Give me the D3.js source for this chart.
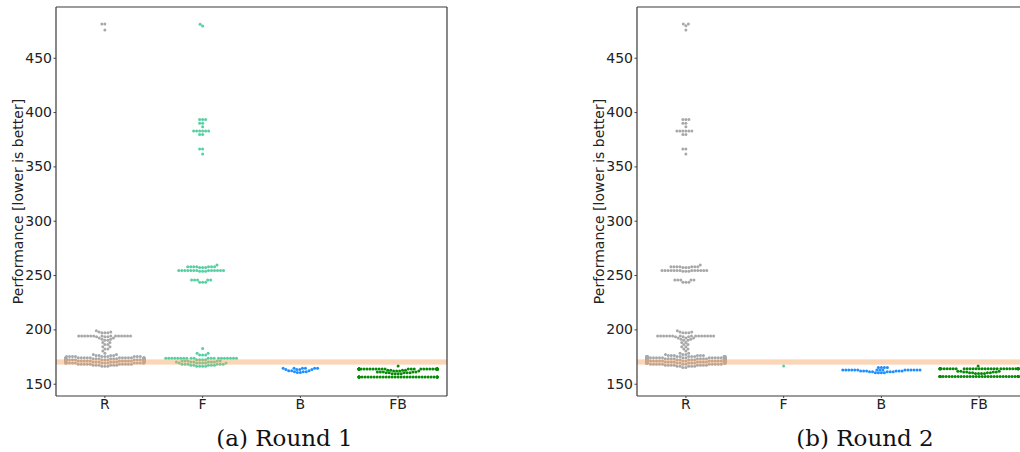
<!DOCTYPE html>
<html>
<head>
<meta charset="utf-8">
<script src="https://cdn.jsdelivr.net/npm/d3@7"></script>
<style>
  html, body { margin: 0; padding: 0; background: #fff; }
  svg { display: block; }
  .tick text { font-family: "DejaVu Sans", sans-serif; font-size: 14px; fill: #222; }
  .ylabel { font-family: "DejaVu Sans", sans-serif; font-size: 14px; fill: #222; }
  .caption { font-family: "DejaVu Serif", serif; font-size: 23px; fill: #111; }
</style>
</head>
<body>
<svg id="chart" width="1020" height="452"></svg>
<script>
// ---------------- DATA ----------------
const categories = ["R", "F", "B", "FB"];
const yTickValues = [150, 200, 250, 300, 350, 400, 450];
const captions = ["(a) Round 1", "(b) Round 2"];
const yLabel = "Performance [lower is better]";
const referenceBand = [167.6, 172.4];

// each entry: [value, number of runs with that value]
const round1_R = [
  [166, 3], [167, 6], [168, 10], [169, 14], [170, 16], [171, 18], [172, 18],
  [173, 17], [174, 15], [175, 10], [176, 4], [177, 2], [178, 1],
  [180, 1], [182, 2], [184, 2], [186, 2], [188, 2], [190, 2], [191, 2],
  [192, 2], [193.2, 3], [194, 14], [196.8, 3], [197.5, 2], [198.8, 1],
  [475.5, 1], [481, 2]
];
const round1_F = [
  [166, 4], [167, 5], [168, 6], [169, 6], [170, 6], [171, 5], [172, 4],
  [173.5, 20], [176.5, 3], [178, 2], [182.5, 1],
  [243.5, 3], [245.5, 5], [253.6, 3], [254.3, 13], [257, 3], [257.6, 7], [259.2, 1],
  [361.3, 1], [366, 2], [379.4, 2], [382.5, 6], [386.5, 1], [389.6, 2], [393.2, 3],
  [479.3, 1], [480.8, 1]
];
const round1_B = [
  [160.3, 2], [161, 3], [162, 3], [163, 4], [164.2, 6]
];
const round1_FB = [
  [156.3, 34], [159.2, 4], [160, 5], [160.8, 5], [161.6, 4], [162.5, 4],
  [163.6, 34], [166.3, 1]
];

const round2_R = [
  [165, 2], [166, 5], [167, 8], [168, 12], [169, 16], [170, 20], [171, 22],
  [172, 22], [173, 24], [174, 28], [175, 12], [176, 6], [177, 3], [178, 2],
  [180, 1], [182, 2], [184, 2], [186, 2], [188, 2], [190, 2], [191, 2],
  [192, 3], [193.2, 3], [194, 15], [196.8, 3], [197.5, 2], [198.8, 1],
  [243.5, 3], [245.5, 5], [253.6, 3], [254.3, 13], [257, 3], [257.6, 7], [259.2, 1],
  [361.3, 1], [366, 2], [379.4, 2], [382.5, 6], [386.5, 1], [389.6, 2], [393.2, 3],
  [475.5, 1], [479.5, 1], [481, 2]
];
const round2_F = [
  [166.3, 1]
];
const round2_B = [
  [160.2, 4], [161, 5], [161.8, 6], [162.6, 15], [165, 4]
];
const round2_FB = [
  [156.6, 34], [159.3, 4], [160, 4], [160.8, 4], [161.5, 3],
  [163.8, 34], [166.4, 1]
];

const roundData = [
  [round1_R, round1_F, round1_B, round1_FB],
  [round2_R, round2_F, round2_B, round2_FB]
];

// ---------------- STYLE / LAYOUT ----------------
const palette = ["#a8a8a8", "#56cfa2", "#1e8fff", "#078a07"];
const layout = {
  panelLefts: [56, 637],
  captionX: [284.5, 865],
  captionY: 446,
  ylabelOffset: -37.5,
  top: 7, bottom: 396, width: 391,
  dotR: 1.5, dotD: 3.0
};

const svg = d3.select("#chart");

const y = d3.scaleLinear().domain([138.7, 496.7]).range([layout.bottom, layout.top]);

function expand(pairs) {
  return pairs.flatMap(([v, n]) => Array.from({length: n}, () => v));
}

function beeswarm(values, d, halfW) {
  const pts = values.slice().sort((a, b) => a - b).map(v => ({v, y: y(v), x: 0}));
  const placed = [];
  for (const p of pts) {
    const nb = placed.filter(q => Math.abs(q.y - p.y) < d);
    const cands = [0];
    for (const q of nb) {
      const dy = q.y - p.y;
      const dx = Math.sqrt(d * d - dy * dy);
      cands.push(q.x - dx, q.x + dx);
    }
    const order = cands.map((c, i) => [c, i]).sort((a, b) => (Math.abs(a[0]) - Math.abs(b[0])) || (a[1] - b[1]));
    let chosen = 0;
    for (const [c] of order) {
      let ok = true;
      for (const q of nb) {
        const dx = c - q.x, dy = q.y - p.y;
        if (dx * dx + dy * dy < d * d - 1e-6) { ok = false; break; }
      }
      if (ok) { chosen = c; break; }
    }
    p.x = chosen;
    placed.push(p);
  }
  for (const p of placed) p.x = Math.max(-halfW, Math.min(halfW, p.x));
  return placed;
}

roundData.forEach((groups, pi) => {
  const left = layout.panelLefts[pi];
  const x = d3.scaleBand().domain(categories).range([left, left + layout.width]).padding(0);
  const halfW = x.bandwidth() * 0.4;
  const g = svg.append("g");

  // swarm points
  groups.forEach((pairs, ci) => {
    const cx = x(categories[ci]) + x.bandwidth() / 2;
    const pts = beeswarm(expand(pairs), layout.dotD, halfW);
    g.append("g").selectAll("circle").data(pts).join("circle")
      .attr("cx", p => cx + p.x)
      .attr("cy", p => p.y)
      .attr("r", layout.dotR)
      .attr("fill", palette[ci]);
  });

  // reference band
  g.append("rect")
    .attr("x", left)
    .attr("width", layout.width)
    .attr("y", y(referenceBand[1]))
    .attr("height", y(referenceBand[0]) - y(referenceBand[1]))
    .attr("fill", "#f4a460")
    .attr("opacity", 0.45);

  // axes
  const yAxis = d3.axisLeft(y).tickValues(yTickValues).tickSize(2.5).tickPadding(1.5);
  const ya = g.append("g").attr("transform", `translate(${left},0)`).call(yAxis);
  ya.select(".domain").remove();
  ya.selectAll(".tick line").attr("stroke", "#444");

  const xAxis = d3.axisBottom(x).tickSize(2).tickPadding(1);
  const xa = g.append("g").attr("transform", `translate(0,${layout.bottom})`).call(xAxis);
  xa.select(".domain").remove();
  xa.selectAll(".tick line").attr("stroke", "#444");

  // spines
  const sp = g.append("g").attr("stroke", "#3a3a3a").attr("stroke-width", 1.2).attr("fill", "none");
  sp.append("line").attr("x1", left).attr("x2", left).attr("y1", layout.top).attr("y2", layout.bottom);
  sp.append("line").attr("x1", left).attr("x2", left + layout.width).attr("y1", layout.bottom).attr("y2", layout.bottom);
  sp.append("line").attr("x1", left).attr("x2", left + layout.width).attr("y1", layout.top).attr("y2", layout.top);
  sp.append("line").attr("x1", left + layout.width).attr("x2", left + layout.width).attr("y1", layout.top).attr("y2", layout.bottom);

  // y label
  g.append("text").attr("class", "ylabel")
    .attr("transform", `translate(${left + layout.ylabelOffset},${(layout.top + layout.bottom) / 2}) rotate(-90)`)
    .attr("text-anchor", "middle")
    .attr("dy", "0.35em")
    .text(yLabel);

  // caption
  svg.append("text").attr("class", "caption")
    .attr("x", layout.captionX[pi])
    .attr("y", layout.captionY)
    .attr("text-anchor", "middle")
    .text(captions[pi]);
});
</script>
</body>
</html>
